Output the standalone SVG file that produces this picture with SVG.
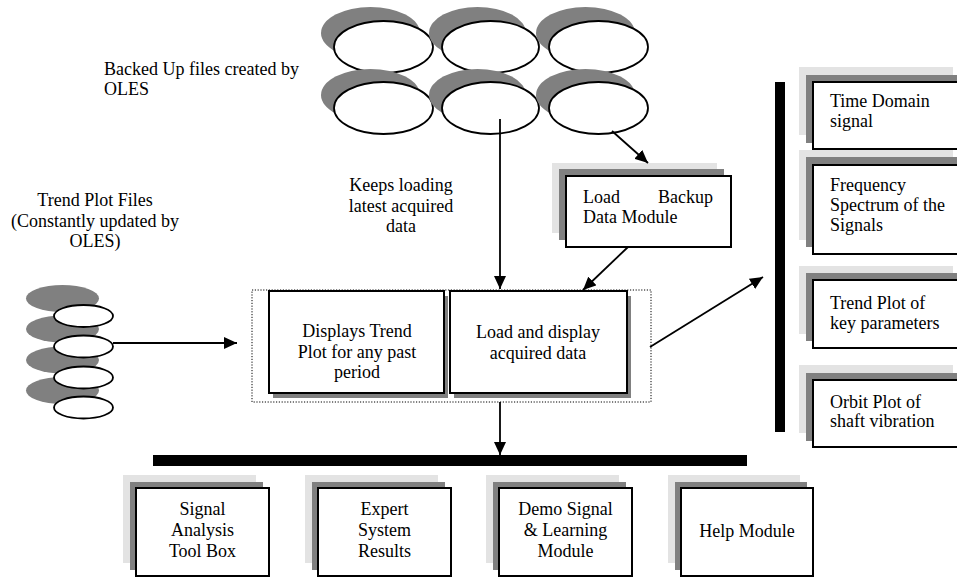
<svg xmlns="http://www.w3.org/2000/svg" width="957" height="577" viewBox="0 0 957 577">
<style>
.t{font-family:"Liberation Serif","Times New Roman",serif;font-size:18px;fill:#000}
.m{text-anchor:middle}
.box{fill:#fff;stroke:#000;stroke-width:2}
.lg{fill:#e3e3e3}
.dg{fill:#808080}
.el{fill:#fff;stroke:#000;stroke-width:1.8}
.sh{fill:#808080}
.c{stroke:#000;stroke-width:1.8;fill:none;marker-end:url(#ah)}
</style>
<defs>
<marker id="ah" markerUnits="userSpaceOnUse" markerWidth="13" markerHeight="12" refX="13" refY="6" orient="auto">
<path d="M0,0 L13,6 L0,12 z" fill="#000"/>
</marker>
</defs>
<rect width="957" height="577" fill="#fff"/>

<g id="backup-files">
<ellipse class="sh" cx="370.5" cy="33" rx="49.5" ry="26"/>
<ellipse class="el" cx="383.5" cy="47" rx="49.5" ry="26"/>
<ellipse class="sh" cx="477.5" cy="33" rx="48.5" ry="26"/>
<ellipse class="el" cx="490.5" cy="47" rx="48.5" ry="26"/>
<ellipse class="sh" cx="585.5" cy="33" rx="49.5" ry="26"/>
<ellipse class="el" cx="598.5" cy="47" rx="49.5" ry="26"/>
<ellipse class="sh" cx="370.5" cy="95" rx="49.5" ry="26"/>
<ellipse class="el" cx="383.5" cy="108" rx="49.5" ry="26"/>
<ellipse class="sh" cx="477.5" cy="95" rx="48.5" ry="26"/>
<ellipse class="el" cx="490.5" cy="108" rx="48.5" ry="26"/>
<ellipse class="sh" cx="585.5" cy="95" rx="49.5" ry="26"/>
<ellipse class="el" cx="598.5" cy="108" rx="49.5" ry="26"/>
</g>

<g id="label-backup">
<text class="t" x="104" y="75">Backed Up files created by</text>
<text class="t" x="104" y="95">OLES</text>
</g>

<g id="label-trend">
<text class="t m" x="95" y="206">Trend Plot Files</text>
<text class="t m" x="95" y="226.5">(Constantly updated by</text>
<text class="t m" x="95" y="247">OLES)</text>
</g>

<g id="label-keeps">
<text class="t m" x="401" y="191">Keeps loading</text>
<text class="t m" x="401" y="211.5">latest acquired</text>
<text class="t m" x="401" y="232">data</text>
</g>

<g id="trend-files">
<ellipse class="sh" cx="62.5" cy="298.5" rx="36.5" ry="13.5"/>
<ellipse class="sh" cx="62.5" cy="329" rx="36.5" ry="13.5"/>
<ellipse class="sh" cx="62.5" cy="360" rx="36.5" ry="13.5"/>
<ellipse class="sh" cx="62.5" cy="390.5" rx="36.5" ry="13.5"/>
<ellipse class="el" cx="83.5" cy="316" rx="29.5" ry="11"/>
<ellipse class="el" cx="83.5" cy="346.5" rx="29.5" ry="11"/>
<ellipse class="el" cx="83.5" cy="377.5" rx="29.5" ry="11"/>
<ellipse class="el" cx="83.5" cy="407.5" rx="29.5" ry="11"/>
</g>

<g id="load-backup">
<rect class="lg" x="552" y="163" width="165" height="70"/>
<rect class="dg" x="559" y="169" width="165" height="71"/>
<rect class="box" x="566" y="176" width="165" height="71"/>
<text class="t" y="203"><tspan x="583">Load</tspan><tspan x="713" text-anchor="end">Backup</tspan></text>
<text class="t" x="583" y="223">Data Module</text>
</g>

<g id="center-group">
<rect x="252" y="290" width="399" height="112" fill="none" stroke="#000" stroke-width="1" stroke-dasharray="1.2 1.6"/>
</g>

<g id="trend-display">
<rect class="dg" x="273" y="296" width="175" height="102"/>
<rect class="box" x="269" y="291" width="175" height="102"/>
<text class="t m" x="357" y="337">Displays Trend</text>
<text class="t m" x="357" y="357.5">Plot for any past</text>
<text class="t m" x="357" y="378">period</text>
</g>

<g id="load-display">
<rect class="dg" x="454" y="296" width="177" height="102"/>
<rect class="box" x="450" y="291" width="177" height="102"/>
<text class="t m" x="538" y="338">Load and display</text>
<text class="t m" x="538" y="358.5">acquired data</text>
</g>

<g id="right-bar">
<rect x="775" y="82" width="10" height="350" fill="#000"/>
</g>

<g id="time-domain">
<rect class="lg" x="799" y="67" width="154" height="68"/>
<rect class="dg" x="806" y="75" width="154" height="68"/>
<rect class="box" x="813" y="82" width="154" height="67"/>
<text class="t" x="830" y="107">Time Domain</text>
<text class="t" x="830" y="127">signal</text>
</g>

<g id="frequency">
<rect class="lg" x="799" y="150" width="154" height="90"/>
<rect class="dg" x="806" y="157" width="154" height="90"/>
<rect class="box" x="813" y="165" width="154" height="89"/>
<text class="t" x="830" y="190.5">Frequency</text>
<text class="t" x="830" y="210.5">Spectrum of the</text>
<text class="t" x="830" y="230.5">Signals</text>
</g>

<g id="trend-plot">
<rect class="lg" x="799" y="266" width="154" height="68"/>
<rect class="dg" x="806" y="273" width="154" height="68"/>
<rect class="box" x="813" y="280" width="154" height="68"/>
<text class="t" x="830" y="309">Trend Plot of</text>
<text class="t" x="830" y="329">key parameters</text>
</g>

<g id="orbit-plot">
<rect class="lg" x="799" y="365" width="154" height="68"/>
<rect class="dg" x="806" y="373" width="154" height="68"/>
<rect class="box" x="813" y="380" width="154" height="67"/>
<text class="t" x="830" y="408">Orbit Plot of</text>
<text class="t" x="830" y="427">shaft vibration</text>
</g>

<g id="bottom-bar">
<rect x="153" y="455" width="594" height="11" fill="#000"/>
</g>

<g id="signal-analysis">
<rect class="lg" x="123" y="475" width="133" height="88"/>
<rect class="dg" x="130" y="482" width="133" height="88"/>
<rect class="box" x="136" y="488" width="133" height="88"/>
<text class="t m" x="202.5" y="515">Signal</text>
<text class="t m" x="202.5" y="536">Analysis</text>
<text class="t m" x="202.5" y="557">Tool Box</text>
</g>

<g id="expert-system">
<rect class="lg" x="305" y="475" width="133" height="88"/>
<rect class="dg" x="312" y="482" width="133" height="88"/>
<rect class="box" x="318" y="488" width="133" height="88"/>
<text class="t m" x="384.5" y="515">Expert</text>
<text class="t m" x="384.5" y="536">System</text>
<text class="t m" x="384.5" y="557">Results</text>
</g>

<g id="demo-signal">
<rect class="lg" x="486" y="475" width="133" height="88"/>
<rect class="dg" x="493" y="482" width="133" height="88"/>
<rect class="box" x="499" y="488" width="133" height="88"/>
<text class="t m" x="565.5" y="515">Demo Signal</text>
<text class="t m" x="565.5" y="536">&amp; Learning</text>
<text class="t m" x="565.5" y="557">Module</text>
</g>

<g id="help-module">
<rect class="lg" x="668" y="475" width="132" height="88"/>
<rect class="dg" x="675" y="482" width="132" height="88"/>
<rect class="box" x="681" y="488" width="132" height="88"/>
<text class="t m" x="747" y="537">Help Module</text>
</g>

<g id="connectors">
<line class="c" x1="500" y1="119" x2="500" y2="289"/>
<line class="c" x1="612" y1="131" x2="648" y2="163"/>
<line class="c" x1="628" y1="247" x2="583" y2="290"/>
<line class="c" x1="113" y1="343" x2="237" y2="343"/>
<line class="c" x1="650" y1="347" x2="763" y2="277"/>
<line class="c" x1="500" y1="402" x2="500" y2="455"/>
</g>
</svg>
